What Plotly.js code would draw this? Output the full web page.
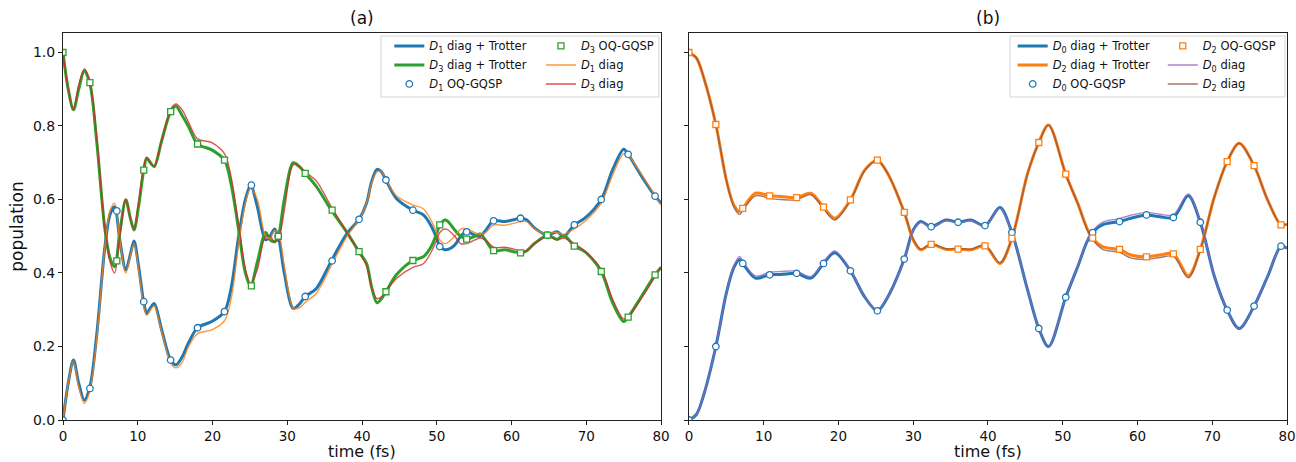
<!DOCTYPE html>
<html>
<head>
<meta charset="utf-8">
<script src="https://cdn.plot.ly/plotly-3.0.1.min.js"></script>
<style>html,body{margin:0;padding:0;background:#fff;}#chart{width:1296px;height:462px;}</style>
</head>
<body>
<div id="chart"></div>
<script>
// ---------- panel (a) ----------
const tA = [0, 0.7, 1.4, 2.1, 2.85, 3.6, 4.5, 5.6, 6.3, 6.9, 7.6, 8.4, 9.0, 9.5, 10.1, 10.8, 11.2, 11.7, 12.2, 13.2, 14.4, 15.1, 15.9, 16.8, 18.0, 19.9, 21.6, 22.5, 23.5, 24.4, 25.1, 26.0, 27.1, 27.7, 28.3, 28.8, 29.6, 30.8, 31.6, 32.4, 33.9, 35.9, 38.0, 39.6, 40.6, 41.3, 42.0, 42.6, 43.2, 44.6, 46.8, 48.2, 49.2, 50.0, 50.4, 51.2, 52.4, 53.2, 54.0, 55.1, 55.8, 56.5, 57.6, 59.1, 60.3, 61.2, 62.0, 63.1, 64.8, 65.5, 66.1, 67.0, 68.4, 69.8, 72.0, 73.5, 75.0, 75.6, 77.5, 79.2, 80];
const D1_trotter = [0.0, 0.10, 0.163, 0.10, 0.054, 0.09, 0.23, 0.47, 0.56, 0.58, 0.49, 0.408, 0.45, 0.487, 0.42, 0.32, 0.29, 0.305, 0.317, 0.245, 0.163, 0.150, 0.17, 0.21, 0.251, 0.268, 0.295, 0.36, 0.50, 0.60, 0.639, 0.58, 0.49, 0.50, 0.52, 0.50, 0.40, 0.304, 0.315, 0.336, 0.358, 0.433, 0.508, 0.546, 0.59, 0.65, 0.682, 0.675, 0.653, 0.603, 0.571, 0.558, 0.53, 0.494, 0.472, 0.463, 0.476, 0.50, 0.512, 0.503, 0.50, 0.515, 0.542, 0.540, 0.545, 0.549, 0.545, 0.522, 0.503, 0.508, 0.512, 0.50, 0.531, 0.549, 0.600, 0.68, 0.737, 0.723, 0.66, 0.609, 0.590];
const D3_trotter = [1.0, 0.90, 0.844, 0.90, 0.950, 0.915, 0.76, 0.52, 0.44, 0.417, 0.51, 0.599, 0.55, 0.517, 0.58, 0.680, 0.712, 0.70, 0.689, 0.76, 0.839, 0.854, 0.83, 0.798, 0.751, 0.735, 0.707, 0.64, 0.517, 0.40, 0.365, 0.43, 0.51, 0.49, 0.485, 0.50, 0.60, 0.700, 0.69, 0.671, 0.635, 0.571, 0.51, 0.458, 0.426, 0.36, 0.319, 0.33, 0.349, 0.395, 0.434, 0.444, 0.47, 0.508, 0.531, 0.544, 0.517, 0.50, 0.492, 0.50, 0.506, 0.49, 0.461, 0.463, 0.458, 0.455, 0.46, 0.481, 0.503, 0.497, 0.492, 0.503, 0.473, 0.458, 0.404, 0.32, 0.268, 0.280, 0.34, 0.395, 0.416];
const D1_diag = [0.0, 0.10, 0.16, 0.09, 0.045, 0.08, 0.22, 0.47, 0.57, 0.59, 0.49, 0.40, 0.445, 0.48, 0.41, 0.31, 0.285, 0.30, 0.31, 0.24, 0.155, 0.142, 0.155, 0.20, 0.235, 0.245, 0.27, 0.33, 0.48, 0.59, 0.63, 0.60, 0.50, 0.495, 0.515, 0.51, 0.42, 0.305, 0.305, 0.32, 0.345, 0.42, 0.50, 0.545, 0.59, 0.645, 0.675, 0.675, 0.655, 0.61, 0.585, 0.575, 0.545, 0.51, 0.49, 0.48, 0.50, 0.52, 0.52, 0.51, 0.505, 0.51, 0.53, 0.53, 0.535, 0.54, 0.54, 0.52, 0.505, 0.51, 0.51, 0.505, 0.52, 0.54, 0.59, 0.665, 0.725, 0.72, 0.665, 0.61, 0.585];
const D3_diag = [1.0, 0.90, 0.845, 0.91, 0.955, 0.92, 0.77, 0.52, 0.43, 0.40, 0.50, 0.60, 0.55, 0.52, 0.59, 0.69, 0.715, 0.70, 0.69, 0.76, 0.845, 0.86, 0.845, 0.81, 0.765, 0.755, 0.725, 0.66, 0.53, 0.41, 0.37, 0.41, 0.50, 0.50, 0.485, 0.49, 0.57, 0.695, 0.69, 0.675, 0.65, 0.58, 0.51, 0.455, 0.42, 0.36, 0.33, 0.335, 0.35, 0.385, 0.415, 0.425, 0.455, 0.49, 0.51, 0.52, 0.50, 0.48, 0.48, 0.49, 0.495, 0.49, 0.47, 0.47, 0.465, 0.46, 0.46, 0.48, 0.50, 0.495, 0.49, 0.495, 0.48, 0.46, 0.41, 0.33, 0.275, 0.28, 0.335, 0.39, 0.415];

const tM = [0, 3.6, 7.2, 10.8, 14.4, 18.0, 21.6, 25.2, 28.8, 32.4, 36.0, 39.6, 43.2, 46.8, 50.4, 54.0, 57.6, 61.2, 64.8, 68.4, 72.0, 75.6, 79.2];
const D1_gqsp = [0.0, 0.086, 0.569, 0.322, 0.163, 0.251, 0.295, 0.639, 0.50, 0.336, 0.433, 0.546, 0.653, 0.571, 0.472, 0.512, 0.542, 0.549, 0.503, 0.531, 0.600, 0.723, 0.609];
const D3_gqsp = [1.0, 0.918, 0.433, 0.680, 0.839, 0.751, 0.707, 0.365, 0.50, 0.671, 0.571, 0.458, 0.349, 0.434, 0.531, 0.492, 0.461, 0.455, 0.503, 0.473, 0.404, 0.280, 0.395];

// ---------- panel (b) ----------
const tB = [0, 1.0, 2.0, 3.6, 5.0, 6.0, 6.8, 7.2, 8.9, 10.8, 12.3, 14.4, 16.3, 18.0, 19.5, 21.6, 23.5, 25.2, 26.6, 28.8, 30.0, 31.0, 32.4, 34.4, 36.0, 37.7, 39.6, 41.6, 43.2, 45.3, 46.8, 48.1, 50.4, 52.0, 53.7, 55.3, 57.6, 59.1, 61.2, 63.0, 64.8, 66.8, 68.4, 70.3, 72.0, 73.6, 75.6, 77.4, 79.2, 80];
const D0_trotter = [0.0, 0.015, 0.07, 0.20, 0.345, 0.415, 0.437, 0.426, 0.386, 0.395, 0.396, 0.399, 0.386, 0.426, 0.455, 0.406, 0.335, 0.297, 0.335, 0.438, 0.517, 0.540, 0.526, 0.544, 0.538, 0.544, 0.529, 0.578, 0.510, 0.354, 0.249, 0.200, 0.334, 0.417, 0.503, 0.531, 0.540, 0.549, 0.558, 0.553, 0.551, 0.610, 0.538, 0.390, 0.299, 0.249, 0.310, 0.390, 0.473, 0.467];
const D2_trotter = [1.0, 0.985, 0.93, 0.804, 0.653, 0.585, 0.567, 0.576, 0.617, 0.610, 0.608, 0.605, 0.617, 0.579, 0.549, 0.599, 0.68, 0.707, 0.67, 0.565, 0.49, 0.463, 0.478, 0.464, 0.465, 0.463, 0.474, 0.426, 0.494, 0.671, 0.755, 0.803, 0.669, 0.590, 0.503, 0.472, 0.464, 0.449, 0.444, 0.449, 0.452, 0.392, 0.464, 0.608, 0.703, 0.753, 0.692, 0.599, 0.531, 0.533];
const D0_diag = [0.0, 0.015, 0.07, 0.20, 0.345, 0.42, 0.445, 0.432, 0.392, 0.402, 0.404, 0.405, 0.39, 0.43, 0.46, 0.408, 0.336, 0.298, 0.335, 0.437, 0.515, 0.538, 0.525, 0.542, 0.536, 0.542, 0.527, 0.576, 0.51, 0.355, 0.25, 0.201, 0.334, 0.418, 0.505, 0.538, 0.548, 0.557, 0.565, 0.56, 0.558, 0.615, 0.54, 0.39, 0.299, 0.249, 0.31, 0.39, 0.473, 0.467];
const D2_diag = [1.0, 0.985, 0.93, 0.804, 0.653, 0.58, 0.559, 0.57, 0.61, 0.603, 0.60, 0.599, 0.613, 0.575, 0.544, 0.597, 0.678, 0.706, 0.67, 0.566, 0.492, 0.465, 0.479, 0.466, 0.467, 0.465, 0.476, 0.428, 0.494, 0.67, 0.754, 0.802, 0.669, 0.589, 0.50, 0.465, 0.456, 0.441, 0.437, 0.442, 0.445, 0.387, 0.462, 0.608, 0.703, 0.753, 0.692, 0.599, 0.531, 0.533];
const D0_gqsp = [0.0, 0.20, 0.426, 0.395, 0.399, 0.426, 0.406, 0.297, 0.438, 0.526, 0.538, 0.529, 0.510, 0.249, 0.334, 0.510, 0.540, 0.558, 0.551, 0.538, 0.299, 0.310, 0.473];
const D2_gqsp = [1.0, 0.804, 0.576, 0.610, 0.605, 0.579, 0.599, 0.707, 0.565, 0.478, 0.465, 0.474, 0.494, 0.755, 0.669, 0.495, 0.464, 0.444, 0.452, 0.464, 0.703, 0.692, 0.531];

const xTicks = [0, 10, 20, 30, 40, 50, 60, 70, 80];
const yTicks = [0, 0.2, 0.4, 0.6, 0.8, 1.0];
const yTickText = ['0.0', '0.2', '0.4', '0.6', '0.8', '1.0'];

const C = {blue:'#1f77b4', orange:'#ff7f0e', green:'#2ca02c', red:'#d62728', purple:'#9467bd', brown:'#8c564b'};
const FONT = 'DejaVu Sans, Verdana, sans-serif';

function thick(x, y, color, name, xa, ya, lg, rank) {
  return {x, y, type:'scatter', mode:'lines', name, xaxis:xa, yaxis:ya, legend:lg, legendrank:rank,
    line:{color, width:3, shape:'spline', smoothing:0.9}};
}
function thin(x, y, color, name, xa, ya, lg, rank) {
  return {x, y, type:'scatter', mode:'lines', name, xaxis:xa, yaxis:ya, legend:lg, legendrank:rank, opacity:0.8,
    line:{color, width:1.4, shape:'spline', smoothing:0.9}};
}
function marks(x, y, color, sym, name, xa, ya, lg, rank) {
  return {x, y, type:'scatter', mode:'markers', name, xaxis:xa, yaxis:ya, legend:lg, legendrank:rank,
    marker:{symbol:sym, size:sym==='square'?6:6.5, color:'#ffffff', line:{color, width:1.3}}};
}
const sub = (n) => '<i>D</i><sub>' + n + '</sub>';

const traces = [
  thick(tA, D1_trotter, C.blue, sub(1)+' diag + Trotter', 'x', 'y', 'legend', 1),
  thick(tA, D3_trotter, C.green, sub(3)+' diag + Trotter', 'x', 'y', 'legend', 2),
  thin(tA, D1_diag, C.orange, sub(1)+' diag', 'x', 'y', 'legend2', 2),
  thin(tA, D3_diag, C.red, sub(3)+' diag', 'x', 'y', 'legend2', 3),
  marks(tM, D1_gqsp, C.blue, 'circle', sub(1)+' OQ-GQSP', 'x', 'y', 'legend', 3),
  marks(tM, D3_gqsp, C.green, 'square', sub(3)+' OQ-GQSP', 'x', 'y', 'legend2', 1),

  thick(tB, D0_trotter, C.blue, sub(0)+' diag + Trotter', 'x2', 'y2', 'legend3', 1),
  thick(tB, D2_trotter, C.orange, sub(2)+' diag + Trotter', 'x2', 'y2', 'legend3', 2),
  thin(tB, D0_diag, C.purple, sub(0)+' diag', 'x2', 'y2', 'legend4', 2),
  thin(tB, D2_diag, C.brown, sub(2)+' diag', 'x2', 'y2', 'legend4', 3),
  marks(tM, D0_gqsp, C.blue, 'circle', sub(0)+' OQ-GQSP', 'x2', 'y2', 'legend3', 3),
  marks(tM, D2_gqsp, C.orange, 'square', sub(2)+' OQ-GQSP', 'x2', 'y2', 'legend4', 1)
];

const axBase = {
  range:[0, 80], tickvals:xTicks, ticks:'outside', ticklen:4, tickwidth:1, tickcolor:'#222',
  showline:true, linecolor:'#222', linewidth:1, mirror:true, showgrid:false, zeroline:false,
  tickfont:{family:FONT, size:13.5, color:'#111'}
};
const ayBase = {
  range:[0, 1.053], tickvals:yTicks, ticktext:yTickText, ticks:'outside', ticklen:4, tickwidth:1, tickcolor:'#222',
  showline:true, linecolor:'#222', linewidth:1, mirror:true, showgrid:false, zeroline:false,
  tickfont:{family:FONT, size:14, color:'#111'}
};
const legBase = {bgcolor:'rgba(0,0,0,0)', borderwidth:0, font:{family:FONT, size:11.5, color:'#111'},
  xanchor:'left', yanchor:'top', y:1.004, tracegroupgap:0, orientation:'v'};
const titleFont = {family:FONT, size:17, color:'#111'};
const xTitleFont = {family:FONT, size:16, color:'#111'};

const layout = {
  width:1296, height:462,
  margin:{l:63, r:9, t:33, b:42},
  paper_bgcolor:'#fff', plot_bgcolor:'#fff',
  font:{family:FONT, color:'#111'},
  xaxis: Object.assign({}, axBase, {domain:[0, 0.4886], anchor:'y'}),
  yaxis: Object.assign({}, ayBase, {domain:[0, 1], anchor:'x',
    title:{text:'population', font:titleFont, standoff:4}}),
  xaxis2: Object.assign({}, axBase, {domain:[0.5114, 1], anchor:'y2'}),
  yaxis2: Object.assign({}, ayBase, {domain:[0, 1], anchor:'x2', showticklabels:false}),
  legend: Object.assign({}, legBase, {x:0.2666}),
  legend2: Object.assign({}, legBase, {x:0.3905}),
  legend3: Object.assign({}, legBase, {x:0.7759}),
  legend4: Object.assign({}, legBase, {x:0.8985}),
  shapes:[
    {type:'rect', xref:'paper', yref:'paper', x0:0.2598, x1:0.4869, y0:0.8346, y1:0.9922,
      line:{color:'#d4d4d4', width:1}, fillcolor:'rgba(255,255,255,0.8)', layer:'below'},
    {type:'rect', xref:'paper', yref:'paper', x0:0.7737, x1:0.9984, y0:0.8346, y1:0.9922,
      line:{color:'#d4d4d4', width:1}, fillcolor:'rgba(255,255,255,0.8)', layer:'below'}
  ],
  annotations:[
    {text:'(a)', xref:'x domain', yref:'paper', x:0.5, y:1.0388, xanchor:'center', yanchor:'middle',
      showarrow:false, font:titleFont},
    {text:'(b)', xref:'x2 domain', yref:'paper', x:0.5, y:1.0388, xanchor:'center', yanchor:'middle',
      showarrow:false, font:titleFont},
    {text:'time (fs)', xref:'x domain', yref:'paper', x:0.5, y:0, xanchor:'center', yanchor:'top', yshift:-21,
      showarrow:false, font:xTitleFont, borderpad:0},
    {text:'time (fs)', xref:'x2 domain', yref:'paper', x:0.5, y:0, xanchor:'center', yanchor:'top', yshift:-21,
      showarrow:false, font:xTitleFont, borderpad:0}
  ]
};

Plotly.newPlot('chart', traces, layout, {displayModeBar:false, staticPlot:true});
</script>
</body>
</html>
